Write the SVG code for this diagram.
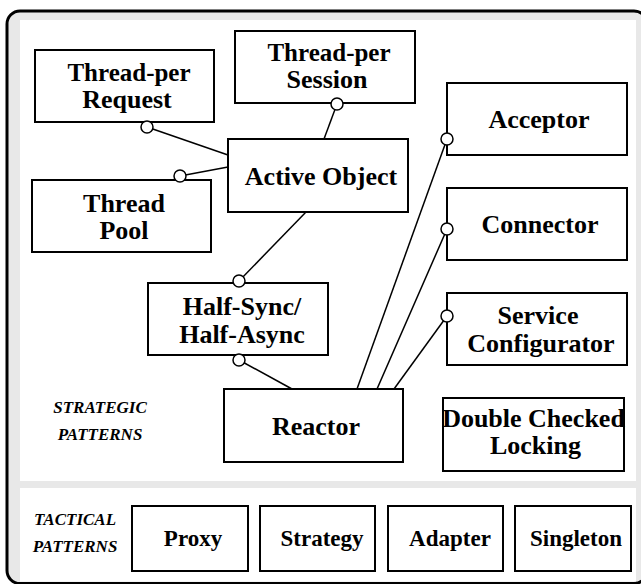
<svg xmlns="http://www.w3.org/2000/svg" width="641" height="584" viewBox="0 0 641 584">
<style>
.box{fill:#fff;stroke:#000;stroke-width:2}
text{font-family:'Liberation Serif',Tinos,'Times New Roman',Times,'Nimbus Roman','DejaVu Serif',serif;font-weight:bold;fill:#000;text-anchor:middle}
.t{font-size:26px}
.tp{font-size:25px}
.ts{font-size:23px}
.lab{font-style:italic;font-size:17px}
.ln{stroke:#000;stroke-width:1.5;fill:none}
.c{fill:#fff;stroke:#000;stroke-width:1.5}
</style>
<g id="frame">
<rect x="7" y="11" width="640" height="572.5" rx="13" fill="#e8e8e8" stroke="#000" stroke-width="3"/>
<rect x="20" y="20" width="616" height="461" fill="#fff"/>
<rect x="20" y="488" width="616" height="93.5" fill="#fff"/>
</g>
<g id="labels">
<text class="lab" x="100" y="413">STRATEGIC</text>
<text class="lab" x="100" y="440">PATTERNS</text>
<text class="lab" x="75" y="525">TACTICAL</text>
<text class="lab" x="75" y="552">PATTERNS</text>
</g>
<g id="connectors">
<line class="ln" x1="147" y1="127" x2="228" y2="155"/>
<line class="ln" x1="180" y1="176" x2="228" y2="167"/>
<line class="ln" x1="337" y1="104" x2="324" y2="139"/>
<line class="ln" x1="306" y1="212" x2="239" y2="281"/>
<line class="ln" x1="239" y1="360" x2="292" y2="389"/>
<line class="ln" x1="447" y1="139" x2="357" y2="389"/>
<line class="ln" x1="447" y1="229" x2="377" y2="389"/>
<line class="ln" x1="447" y1="316" x2="394" y2="389"/>
</g>
<g id="thread-per-request"><rect class="box" x="35" y="50" width="179" height="72"/><text class="tp" x="129" y="81">Thread-per</text><text class="t" x="127" y="108">Request</text></g>
<g id="thread-per-session"><rect class="box" x="235" y="31" width="180" height="72"/><text class="tp" x="329" y="61">Thread-per</text><text class="t" x="327" y="88">Session</text></g>
<g id="active-object"><rect class="box" x="228" y="139" width="180" height="73"/><text class="t" x="321" y="185">Active Object</text></g>
<g id="thread-pool"><rect class="box" x="32" y="180" width="179" height="72"/><text class="t" x="124" y="212">Thread</text><text class="t" x="124" y="239">Pool</text></g>
<g id="half-sync"><rect class="box" x="148" y="283" width="180" height="72"/><text class="t" x="242" y="315">Half-Sync/</text><text class="t" x="242" y="343">Half-Async</text></g>
<g id="reactor"><rect class="box" x="224" y="389" width="179" height="73"/><text class="t" x="316" y="435">Reactor</text></g>
<g id="acceptor"><rect class="box" x="447" y="83" width="180" height="72"/><text class="t" x="539" y="128">Acceptor</text></g>
<g id="connector"><rect class="box" x="447" y="188" width="180" height="72"/><text class="t" x="540" y="233">Connector</text></g>
<g id="service-configurator"><rect class="box" x="447" y="293" width="180" height="72"/><text class="t" x="538" y="324">Service</text><text class="t" x="541" y="352">Configurator</text></g>
<g id="double-checked-locking"><rect class="box" x="443" y="398" width="181" height="73"/><text class="t" x="533.5" y="427">Double Checked</text><text class="t" x="535.5" y="454">Locking</text></g>
<g id="proxy"><rect class="box" x="132" y="506" width="116" height="65"/><text class="ts" x="193" y="546">Proxy</text></g>
<g id="strategy"><rect class="box" x="260" y="506" width="115" height="65"/><text class="ts" x="322" y="546">Strategy</text></g>
<g id="adapter"><rect class="box" x="388" y="506" width="115" height="65"/><text class="ts" x="450" y="546">Adapter</text></g>
<g id="singleton"><rect class="box" x="515" y="506" width="116" height="65"/><text class="ts" x="576" y="546">Singleton</text></g>
<g id="ports">
<circle class="c" cx="147" cy="127" r="6"/>
<circle class="c" cx="180" cy="176" r="6"/>
<circle class="c" cx="337" cy="104" r="6"/>
<circle class="c" cx="239" cy="281" r="6"/>
<circle class="c" cx="239" cy="360" r="6"/>
<circle class="c" cx="447" cy="139" r="6"/>
<circle class="c" cx="447" cy="229" r="6"/>
<circle class="c" cx="447" cy="316" r="6"/>
</g>
</svg>
